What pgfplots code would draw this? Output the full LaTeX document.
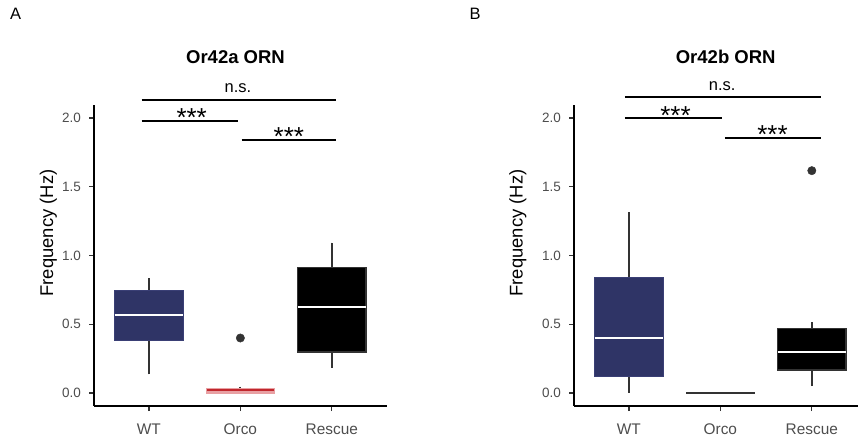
\documentclass[border=0pt]{standalone}
\usepackage{fontspec}
\setmainfont{Liberation Sans}
\usepackage{pgfplots}
\pgfplotsset{compat=1.18}
\usepgfplotslibrary{statistics}
\definecolor{navy}{HTML}{2F3466}
\definecolor{navyb}{HTML}{3A3F75}
\definecolor{rred}{HTML}{C1272D}
\definecolor{rpink}{HTML}{E8A0A3}
\definecolor{dark}{HTML}{333333}
\definecolor{gray30}{HTML}{4D4D4D}
\tikzset{
  sig/.style={black, line width=1.8pt},
  ns/.style={anchor=base, font=\fontsize{16.5}{18}\selectfont},
  ast/.style={anchor=base, font=\fontsize{26}{28}\selectfont},
}
\pgfplotsset{
  panel/.style={
    scale only axis, width=292.7pt, height=301pt,
    xmin=0.4, xmax=3.6, ymin=-0.0945, ymax=2.0945,
    axis x line*=bottom, axis y line*=left,
    axis line style={-, line width=1.8pt, black},
    xtick={1,2,3}, xticklabels={WT,Orco,Rescue},
    ytick={0,0.5,1,1.5,2},
    yticklabel style={/pgf/number format/fixed, /pgf/number format/fixed zerofill, /pgf/number format/precision=1},
    /pgf/number format/assume math mode=true,
    tick align=outside, major tick length=5pt,
    tick style={line width=1.3pt, color=dark},
    xticklabel style={font=\fontsize{15.4}{16}\selectfont, text=gray30, yshift=-9pt},
    yticklabel style={font=\fontsize{13.5}{14}\selectfont, text=gray30, anchor=east, inner sep=0pt, xshift=-8pt},
    clip=false,
    boxplot/draw direction=y,
    boxplot/box extend=0.75,
    boxplot/whisker extend=0,
  },
  wh/.style={boxplot/every whisker/.style={draw=dark, line width=2pt}},
  med/.style={boxplot/every median/.style={draw=white, line width=2pt}},
}
\begin{document}
\begin{tikzpicture}[x=1pt,y=1pt]
\path[use as bounding box] (0,0) rectangle (858,441);
% panel labels and titles
\node[anchor=base west, font=\fontsize{16.5}{18}\selectfont, inner sep=0pt] at (10,421) {A};
\node[anchor=base west, font=\fontsize{16.5}{18}\selectfont, inner sep=0pt] at (469.3,421) {B};
\node[anchor=base, font=\bfseries\fontsize{18.5}{20}\selectfont, inner sep=0pt] at (235.5,377) {Or42a ORN};
\node[anchor=base, font=\bfseries\fontsize{18.5}{20}\selectfont, inner sep=0pt] at (725.7,377) {Or42b ORN};
\node[rotate=90, anchor=base, font=\fontsize{18.4}{20}\selectfont, inner sep=0pt] at (53.2,208) {Frequency (Hz)};
\node[rotate=90, anchor=base, font=\fontsize{18.4}{20}\selectfont, inner sep=0pt] at (522.5,208) {Frequency (Hz)};

\begin{axis}[panel, at={(94pt,35pt)}, anchor=south west]
\addplot[boxplot prepared={draw position=1, lower whisker=0.136, lower quartile=0.385, median=0.567, upper quartile=0.746, upper whisker=0.836}, fill=navy, draw=navyb, line width=0.8pt, wh, med] coordinates {};
\addplot[boxplot prepared={draw position=2, lower whisker=0, lower quartile=0, median=0.006, upper quartile=0.034, upper whisker=0.047}, fill=rred, draw=rpink, line width=0.8pt, wh, boxplot/every median/.style={draw=rpink, line width=1.6pt}] coordinates {};
\addplot[boxplot prepared={draw position=3, lower whisker=0.184, lower quartile=0.30, median=0.628, upper quartile=0.914, upper whisker=1.093}, fill=black, draw=dark, line width=1.6pt, wh, med] coordinates {};
\addplot[only marks, mark=*, mark size=4.2pt, mark options={draw=dark, fill=dark}] coordinates {(2,0.40)};
\addplot[sig] coordinates {(0.921,2.131) (3.05,2.131)};
\addplot[sig] coordinates {(0.921,1.98) (1.97,1.98)};
\addplot[sig] coordinates {(2.014,1.84) (3.05,1.84)};
\node[ns] at (axis cs:1.974,2.184) {n.s.};
\node[ast] at (axis cs:1.468,1.94) {***};
\node[ast] at (axis cs:2.531,1.798) {***};
\end{axis}

\begin{axis}[panel, at={(574pt,35pt)}, anchor=south west]
\addplot[boxplot prepared={draw position=1, lower whisker=0.002, lower quartile=0.119, median=0.398, upper quartile=0.841, upper whisker=1.314}, fill=navy, draw=navyb, line width=0.8pt, wh, med] coordinates {};
\addplot[boxplot prepared={draw position=2, lower whisker=0, lower quartile=0, median=0, upper quartile=0, upper whisker=0}, fill=dark, draw=dark, line width=1.5pt, wh, boxplot/every median/.style={draw=dark, line width=1.5pt}] coordinates {};
\addplot[boxplot prepared={draw position=3, lower whisker=0.05, lower quartile=0.167, median=0.30, upper quartile=0.470, upper whisker=0.514}, fill=black, draw=dark, line width=1.6pt, wh, med] coordinates {};
\addplot[only marks, mark=*, mark size=4.2pt, mark options={draw=dark, fill=dark}] coordinates {(3,1.617)};
\addplot[sig] coordinates {(0.957,2.15) (3.10,2.15)};
\addplot[sig] coordinates {(0.957,2.0) (2.014,2.0)};
\addplot[sig] coordinates {(2.05,1.855) (3.10,1.855)};
\node[ns] at (axis cs:2.02,2.20) {n.s.};
\node[ast] at (axis cs:1.51,1.956) {***};
\node[ast] at (axis cs:2.57,1.815) {***};
\end{axis}
\end{tikzpicture}
\end{document}
